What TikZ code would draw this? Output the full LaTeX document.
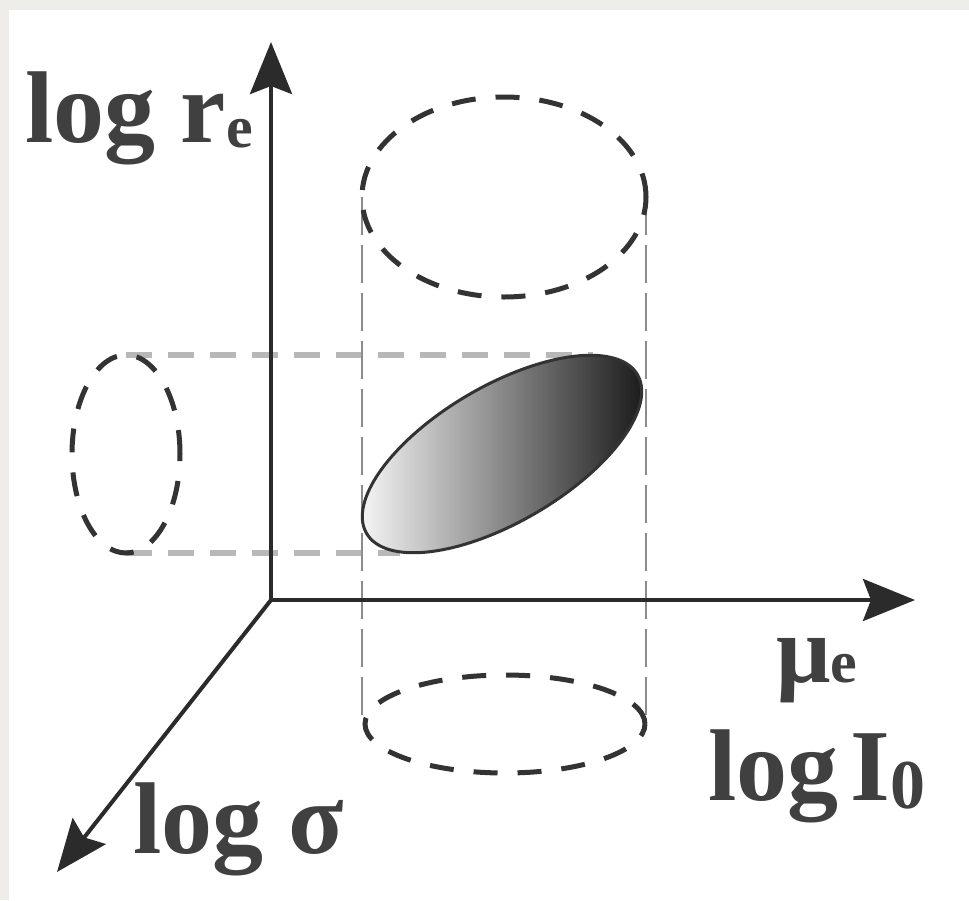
\documentclass[tikz,border=0pt]{standalone}
\usepackage{fontspec}
\setmainfont{Liberation Serif}
\usetikzlibrary{arrows.meta}
\definecolor{bgbeige}{HTML}{EFEDE9}
\definecolor{txtgray}{HTML}{404040}
\definecolor{axisgray}{HTML}{2B2B2B}
\definecolor{dashdark}{HTML}{333333}
\definecolor{hguidegray}{HTML}{B8B8B8}
\definecolor{vguidegray}{HTML}{8C8C8C}
\definecolor{shadelight}{HTML}{F4F4F4}
\definecolor{shadedark}{HTML}{1C1C1C}
\tikzset{
  axisline/.style={line width=4pt, draw=axisgray, -{Stealth[length=52pt,width=42pt,inset=8pt]}},
  dashell/.style={draw=dashdark, line width=5pt, dash pattern=on 24pt off 20pt},
  hguide/.style={draw=hguidegray, line width=6pt, dash pattern=on 26pt off 16pt},
  vguide/.style={draw=vguidegray, line width=2.5pt, dash pattern=on 38pt off 10pt},
  lbl/.style={inner sep=0pt, outer sep=0pt, text=txtgray, font=\fontsize{102}{110}\selectfont\bfseries, anchor=base west},
}
\begin{document}
\begin{tikzpicture}[x=1pt,y=-1pt]
\useasboundingbox (0,0) rectangle (969,900);
\fill[bgbeige] (0,0) rectangle (969,900);
\fill[white] (9,10) rectangle (969,900);

% coordinates
\coordinate (O) at (271,600);
\coordinate (Ytip) at (271,42);
\coordinate (Xtip) at (915,600);
\coordinate (Ztip) at (57,872);
\coordinate (LT) at (126,355);
\coordinate (LB) at (126,553);
\coordinate (ST) at (593,355);
\coordinate (SB) at (400,553);
\coordinate (VLt) at (362,197);
\coordinate (VLb) at (362,724);
\coordinate (VRt) at (646,197);
\coordinate (VRb) at (646,724);

% projection guides
\draw[hguide] (LT) -- (ST);
\draw[hguide] (LB) -- (SB);
\draw[vguide] (VLt) -- (VLb);
\draw[vguide] (VRt) -- (VRb);

% dashed projection ellipses
\draw[dashell] (504,197) ellipse [x radius=142pt, y radius=100pt];
\draw[dashell] (505,724) ellipse [x radius=140pt, y radius=49pt];
\draw[dashell] (126,454) ellipse [x radius=54pt, y radius=99pt];

% shaded ellipse
\shade[left color=shadelight, right color=shadedark]
  plot[domain=0:360, samples=145, variable=\t]
  ({502+157*cos(\t)*cos(30.4)-68*sin(\t)*sin(30.4)},{454-157*cos(\t)*sin(30.4)-68*sin(\t)*cos(30.4)}) -- cycle;
\draw[line width=3pt, draw=dashdark]
  plot[domain=0:360, samples=145, variable=\t]
  ({502+157*cos(\t)*cos(30.4)-68*sin(\t)*sin(30.4)},{454-157*cos(\t)*sin(30.4)-68*sin(\t)*cos(30.4)}) -- cycle;

% axes
\draw[axisline] (O) -- (Ytip);
\draw[axisline] (O) -- (Xtip);
\draw[axisline] (O) -- (Ztip);

% labels
\node[lbl] (lre) at (25,142) {log r\raisebox{-5pt}{\fontsize{60}{60}\selectfont e}};
\node[lbl, font=\fontsize{96}{100}\selectfont\bfseries] (mue) at (776,682) {μ{\fontsize{60}{60}\selectfont e}};
\node[lbl] (lio) at (708,800) {log\hspace{12pt}I\raisebox{-8pt}{\fontsize{70}{70}\selectfont 0}};
\node[lbl] (lsig) at (133,853) {log σ};
\end{tikzpicture}
\end{document}
